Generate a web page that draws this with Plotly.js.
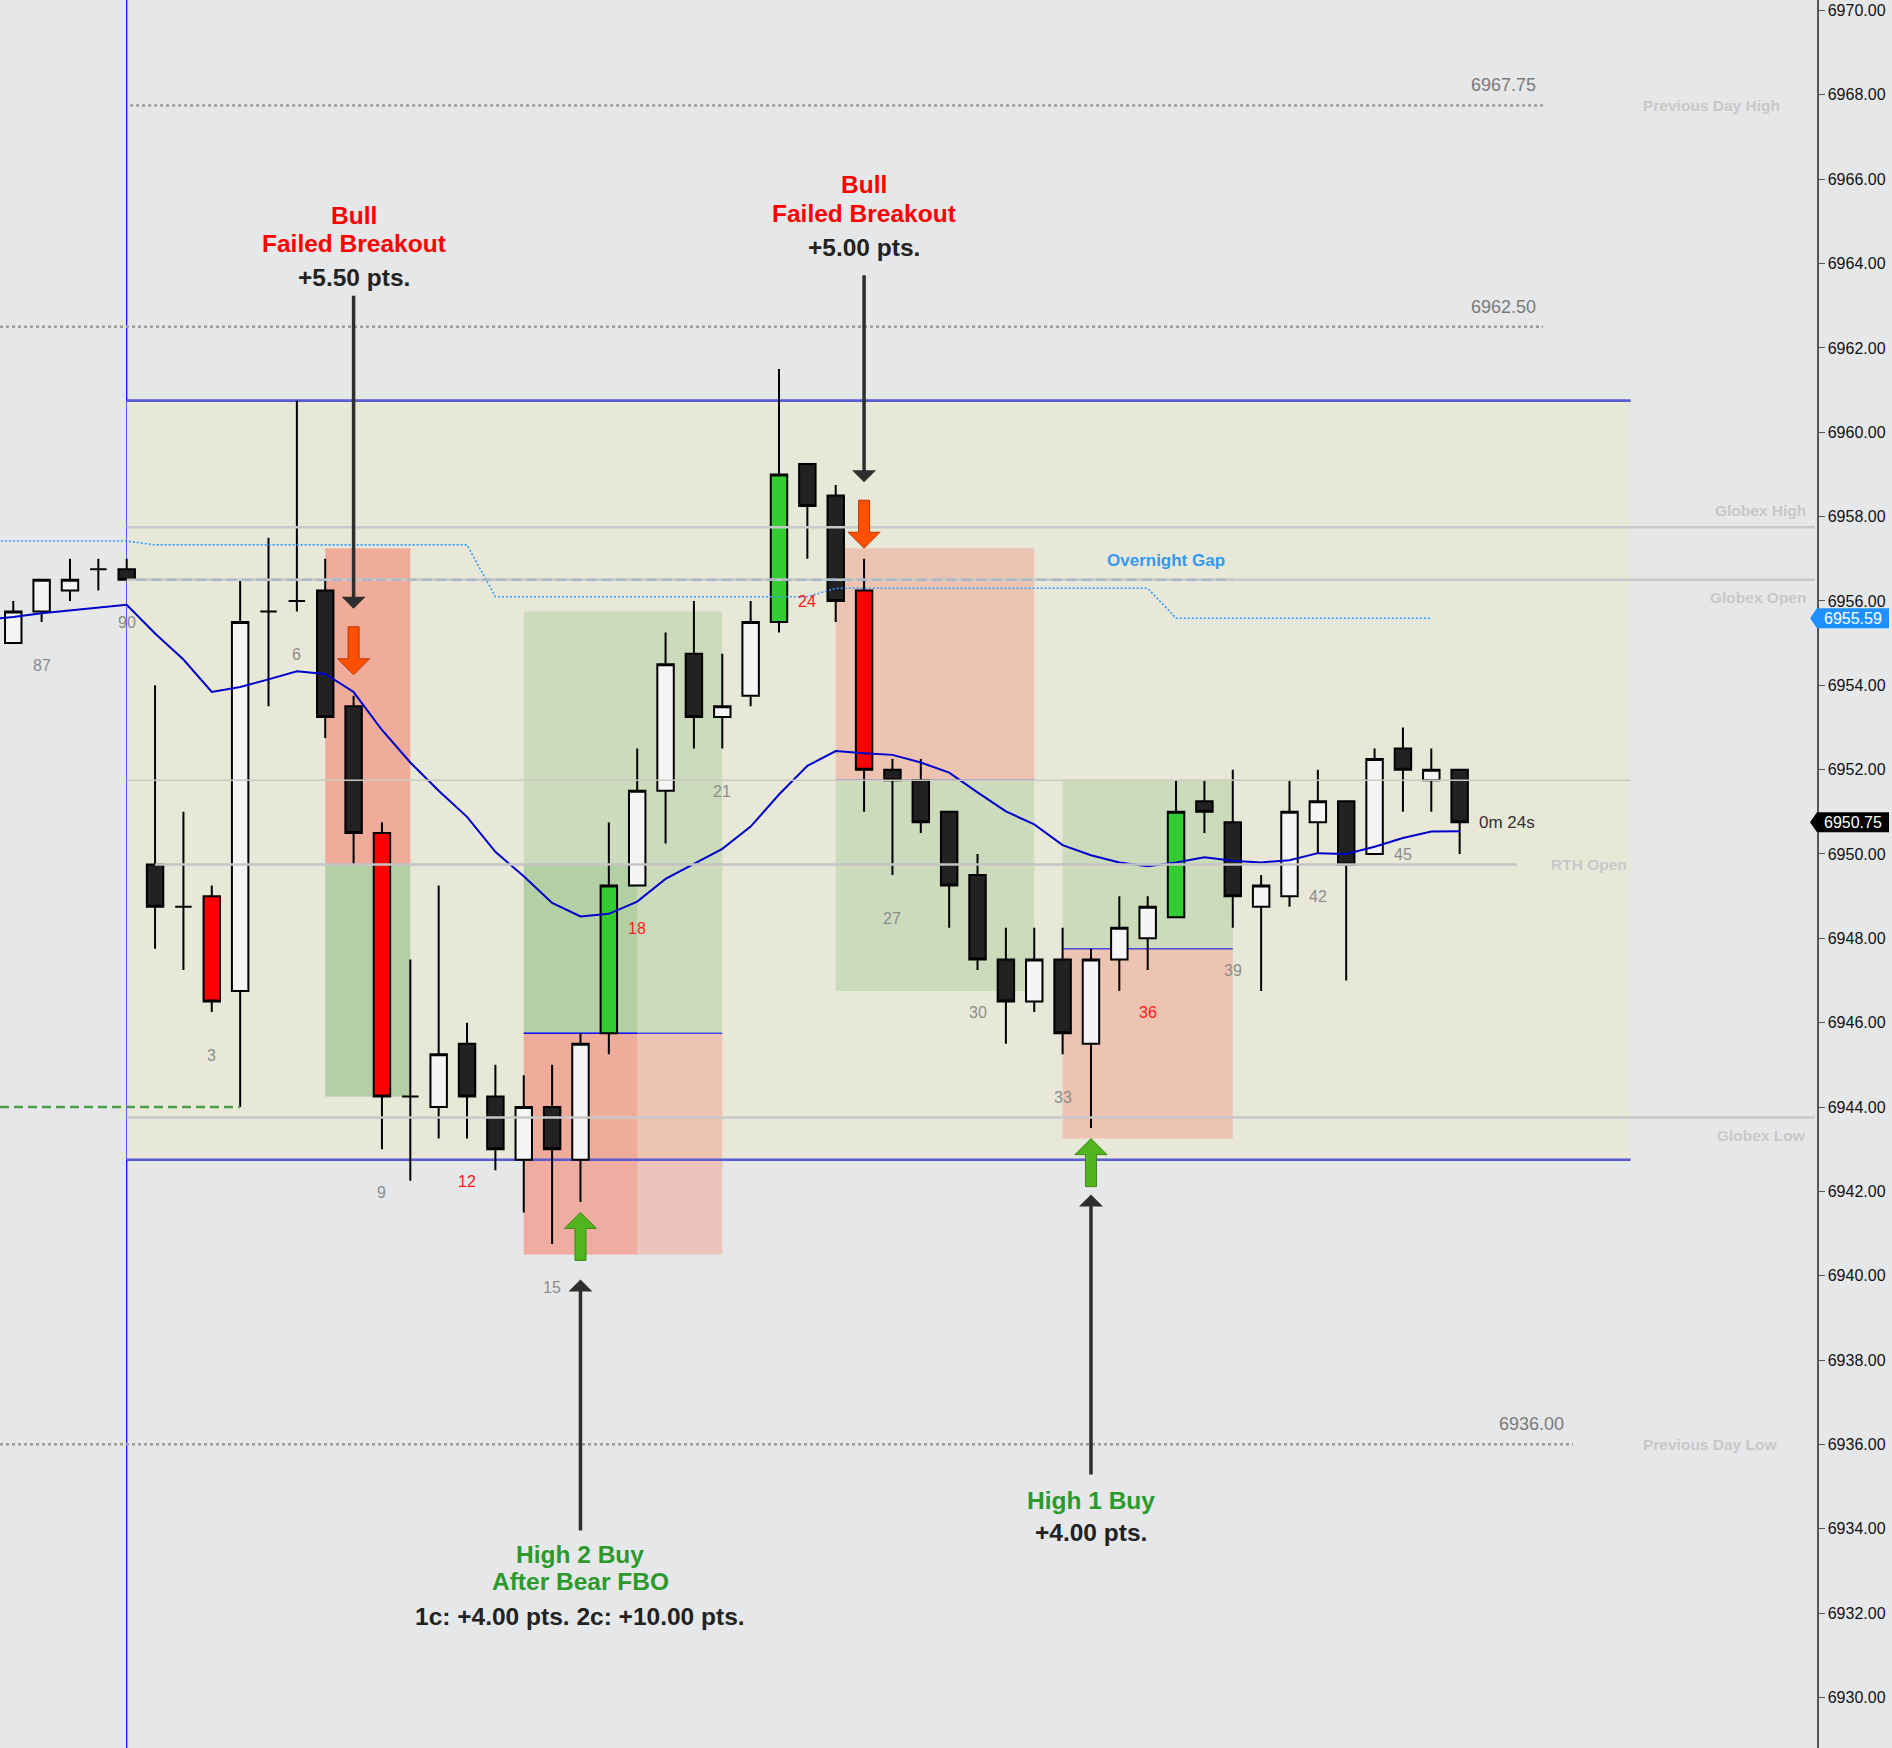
<!DOCTYPE html>
<html>
<head>
<meta charset="utf-8">
<script src="https://cdn.plot.ly/plotly-3.0.1.min.js"></script>
<style>
html,body{margin:0;padding:0;background:#e6e7e9;}
#chart{width:1892px;height:1748px;}
</style>
</head>
<body>
<div id="chart"></div>
<script>
// ---------------- DATA ----------------
const bars   = [86,87,88,89,90,1,2,3,4,5,6,7,8,9,10,11,12,13,14,15,16,17,18,19,20,21,22,23,24,25,26,27,28,29,30,31,32,33,34,35,36,37,38,39,40,41,42,43,44,45,46,47];
const opens  = [6955.00,6955.75,6956.25,6956.75,6956.75,6949.75,6948.75,6949.00,6946.75,6955.75,6956.00,6956.25,6953.50,6950.50,6944.25,6944.00,6945.50,6944.25,6942.75,6944.00,6942.75,6945.75,6949.25,6951.50,6954.75,6953.25,6953.75,6955.50,6959.25,6958.50,6956.25,6952.00,6951.75,6951.00,6949.50,6947.50,6946.50,6947.50,6945.50,6947.50,6948.00,6948.50,6951.25,6950.75,6948.75,6949.00,6950.75,6951.25,6950.00,6952.50,6951.75,6952.00];
const highs  = [6956.00,6956.50,6957.00,6957.00,6957.00,6954.00,6951.00,6949.25,6956.50,6957.50,6960.75,6957.00,6953.75,6950.75,6947.50,6949.25,6946.00,6945.00,6944.75,6945.00,6945.75,6950.75,6952.50,6955.25,6956.00,6954.75,6956.00,6961.50,6959.25,6958.75,6957.00,6952.25,6952.25,6951.00,6950.00,6948.25,6948.25,6948.25,6947.75,6949.00,6949.00,6951.75,6951.75,6952.00,6949.50,6951.75,6952.00,6951.25,6952.50,6953.00,6952.50,6952.00];
const lows   = [6955.00,6955.50,6956.00,6956.25,6956.50,6947.75,6947.25,6946.25,6944.00,6953.50,6955.75,6952.75,6949.75,6943.00,6942.25,6943.25,6943.25,6942.50,6941.50,6940.75,6941.75,6945.25,6949.25,6950.25,6952.50,6952.50,6953.50,6955.25,6957.00,6955.50,6951.00,6949.50,6950.50,6948.25,6947.25,6945.50,6946.25,6945.25,6943.50,6946.75,6947.25,6948.50,6950.50,6948.25,6946.75,6948.75,6950.00,6947.00,6950.00,6951.00,6951.00,6950.00];
const closes = [6955.75,6956.50,6956.50,6956.75,6956.50,6948.75,6948.75,6946.50,6955.50,6955.75,6956.00,6953.25,6950.50,6944.25,6944.25,6945.25,6944.25,6943.00,6944.00,6943.00,6945.50,6949.25,6951.50,6954.50,6953.25,6953.50,6955.50,6959.00,6958.25,6956.00,6952.00,6951.75,6950.75,6949.25,6947.50,6946.50,6947.50,6945.75,6947.50,6948.25,6948.75,6951.00,6951.00,6949.00,6949.25,6951.00,6951.25,6949.75,6952.25,6952.00,6952.00,6950.75];

const greenBars    = [17,23,37];
const redBars      = [3,9,26];
const redLabelBars = [12,18,24,36];

const emaBars   = [85,86,87,88,89,90,1,2,3,4,5,6,7,8,9,10,11,12,13,14,15,16,17,18,19,20,21,22,23,24,25,26,27,28,29,30,31,32,33,34,35,36,37,38,39,40,41,42,43,44,45,46,47];
const emaValues = [6955.55,6955.62,6955.71,6955.78,6955.85,6955.91,6955.23,6954.61,6953.84,6953.96,6954.14,6954.33,6954.27,6953.84,6952.94,6952.17,6951.50,6950.88,6950.05,6949.47,6948.84,6948.52,6948.58,6948.87,6949.41,6949.76,6950.12,6950.65,6951.41,6952.09,6952.44,6952.39,6952.35,6952.17,6951.93,6951.46,6951.01,6950.70,6950.21,6949.97,6949.80,6949.71,6949.80,6949.92,6949.84,6949.80,6949.85,6950.02,6950.00,6950.17,6950.38,6950.53,6950.54];

const gapBars   = [85,86,87,88,89,90,1,2,3,4,5,6,7,8,9,10,11,12,13,14,15,16,17,18,19,20,21,22,23,24,25,26,27,28,29,30,31,32,33,34,35,36,37,38,39,40,41,42,43,44,45,46];
const gapValues = [6957.42,6957.42,6957.42,6957.42,6957.42,6957.42,6957.33,6957.33,6957.33,6957.33,6957.33,6957.33,6957.33,6957.33,6957.33,6957.33,6957.33,6957.33,6956.10,6956.10,6956.10,6956.10,6956.10,6956.10,6956.10,6956.10,6956.10,6956.10,6956.10,6956.10,6956.30,6956.30,6956.30,6956.30,6956.30,6956.30,6956.30,6956.30,6956.30,6956.30,6956.30,6956.30,6955.59,6955.59,6955.59,6955.59,6955.59,6955.59,6955.59,6955.59,6955.59,6955.59];

const rangeHigh = 6960.75, rangeLow = 6942.75;
const globexHigh = 6957.75, globexOpen = 6956.50, globexLow = 6943.75, rthOpen = 6949.75;
const prevDayHigh = 6967.75, level6962 = 6962.50, prevDayLow = 6936.00;
const greenDashLevel = 6944.00;

// trades (one record per contract)
const trades = [
  {start:7,  end:10, entry:6949.75, target:6944.25, stop:6957.25},
  {start:7,  end:10, entry:6949.75, target:6944.25, stop:6957.25},
  {start:14, end:18, entry:6945.75, target:6949.75, stop:6940.50},
  {start:14, end:21, entry:6945.75, target:6955.75, stop:6940.50},
  {start:25, end:32, entry:6951.75, target:6946.75, stop:6957.25},
  {start:33, end:39, entry:6947.75, target:6951.75, stop:6943.25}
];
// signal arrows: bar, price of block-arrow tip, direction
const signals = [
  {bar:8,  tip:6954.25, dir:'down', blackTip:66, tail:379},
  {bar:26, tip:6957.25, dir:'down', blackTip:66, tail:273},
  {bar:16, tip:6941.50, dir:'up',   blackTip:67, tail:318},
  {bar:34, tip:6943.25, dir:'up',   blackTip:56, tail:336}
];

// ---------------- HELPERS ----------------
const xOf = b => (b >= 80 ? b - 90 : b);
const X0 = -4.4676, X1 = 59.60;
const Y0 = 6928.80, Y1 = 6970.25;
const RANGE_END = 53.03;
const FONT = '"Liberation Sans", Arial, sans-serif';
const RED = '#ff0000', GREEN = '#2b9a2b', DARK = '#222222';

// ---------------- TRACES ----------------
const groups = {
  white:{fill:'#f5f5f5', idx:[]},
  black:{fill:'#222222', idx:[]},
  green:{fill:'#33cc33', idx:[]},
  red:  {fill:'#ff0000', idx:[]}
};
bars.forEach((b,i) => {
  let g;
  if (greenBars.includes(b)) g = 'green';
  else if (redBars.includes(b)) g = 'red';
  else if (closes[i] > opens[i]) g = 'white';
  else g = 'black';
  groups[g].idx.push(i);
});

const traces = [];
traces.push({
  type:'scatter', mode:'lines', x:gapBars.map(xOf), y:gapValues,
  line:{color:'#3399ff', width:1.6, dash:'2px,2px'}, hoverinfo:'skip', showlegend:false
});
traces.push({
  type:'scatter', mode:'lines', x:emaBars.map(xOf), y:emaValues,
  line:{color:'#0000cc', width:2}, hoverinfo:'skip', showlegend:false
});
Object.keys(groups).forEach(k => {
  const g = groups[k];
  traces.push({
    type:'candlestick',
    x: g.idx.map(i => xOf(bars[i])),
    open: g.idx.map(i => opens[i]),
    high: g.idx.map(i => highs[i]),
    low: g.idx.map(i => lows[i]),
    close: g.idx.map(i => closes[i]),
    increasing:{line:{color:'#000000', width:2}, fillcolor:g.fill},
    decreasing:{line:{color:'#000000', width:2}, fillcolor:g.fill},
    whiskerwidth:0, hoverinfo:'skip', showlegend:false
  });
});

// ---------------- SHAPES ----------------
const shapes = [];
// range box
shapes.push({type:'rect', layer:'below', xref:'x', yref:'y', x0:0, x1:RANGE_END, y0:rangeLow, y1:rangeHigh,
  fillcolor:'#e8e8d8', line:{width:0}});
// trades
trades.forEach(t => {
  shapes.push({type:'rect', layer:'below', xref:'x', yref:'y', x0:t.start, x1:t.end, y0:t.entry, y1:t.target,
    fillcolor:'rgba(70,160,60,0.18)', line:{width:0}});
  shapes.push({type:'rect', layer:'below', xref:'x', yref:'y', x0:t.start, x1:t.end, y0:t.entry, y1:t.stop,
    fillcolor:'rgba(245,130,110,0.35)', line:{width:0}});
});
trades.forEach(t => {
  shapes.push({type:'line', layer:'below', xref:'x', yref:'y', x0:t.start, x1:t.end, y0:t.entry, y1:t.entry,
    line:{color:'#0000ff', width:1}});
});
// vertical session line
shapes.push({type:'line', layer:'below', xref:'x', yref:'paper', x0:0, x1:0, y0:0, y1:1,
  line:{color:'#0000ff', width:1.2}});
// range high / low lines
[rangeHigh, rangeLow].forEach(v => shapes.push({type:'line', layer:'below', xref:'x', yref:'y',
  x0:0, x1:RANGE_END, y0:v, y1:v, line:{color:'#5b5bd2', width:2.6}}));

// above: reference lines
const mid = (rangeHigh + rangeLow) / 2;
shapes.push({type:'line', xref:'x', yref:'y', x0:0, x1:RANGE_END, y0:mid, y1:mid, line:{color:'#c9c9bd', width:1.5}});
[globexHigh, globexOpen, globexLow].forEach(v => shapes.push({type:'line', xref:'x', yref:'y',
  x0:0, x1:59.53, y0:v, y1:v, line:{color:'#c8c8c8', width:2.5}}));
shapes.push({type:'line', xref:'x', yref:'y', x0:0.35, x1:39, y0:globexOpen, y1:globexOpen,
  line:{color:'#a9b8c8', width:2.5, dash:'10px,5px'}});
shapes.push({type:'line', xref:'x', yref:'y', x0:1, x1:49.02, y0:rthOpen, y1:rthOpen,
  line:{color:'#c4c4c4', width:2.5}});
shapes.push({type:'line', xref:'x', yref:'y', x0:0.12, x1:49.94, y0:prevDayHigh, y1:prevDayHigh,
  line:{color:'#9c9c9c', width:2.5, dash:'3px,3px'}});
shapes.push({type:'line', xref:'x', yref:'y', x0:X0, x1:49.94, y0:level6962, y1:level6962,
  line:{color:'#9c9c9c', width:2.5, dash:'3px,3px'}});
shapes.push({type:'line', xref:'x', yref:'y', x0:X0, x1:51.0, y0:prevDayLow, y1:prevDayLow,
  line:{color:'#9c9c9c', width:2.5, dash:'3px,3px'}});
shapes.push({type:'line', xref:'x', yref:'y', x0:X0, x1:4, y0:greenDashLevel, y1:greenDashLevel,
  line:{color:'#4a9e4a', width:2.5, dash:'9px,5px'}});

// signal arrows
signals.forEach(s => {
  const sg = s.dir === 'down' ? 1 : -1;
  const p = (x, y) => `${x},${sg*y}`;
  const bx = xOf(s.bar);
  const fill = s.dir === 'down' ? '#ff4f00' : '#52b51f';
  const edge = s.dir === 'down' ? '#b83a00' : '#3a8a16';
  shapes.push({type:'path', xref:'x', yref:'y', xsizemode:'pixel', ysizemode:'pixel', xanchor:bx, yanchor:s.tip,
    path:`M${p(0,0)} L${p(-16,16)} L${p(-5.5,16)} L${p(-5.5,48)} L${p(5.5,48)} L${p(5.5,16)} L${p(16,16)} Z`,
    fillcolor:fill, line:{color:edge, width:1}});
  const t = s.blackTip;
  shapes.push({type:'line', xref:'x', yref:'y', ysizemode:'pixel', yanchor:s.tip, x0:bx, x1:bx,
    y0:sg*(t+8), y1:sg*s.tail, line:{color:'#2e2e2e', width:3.5}});
  shapes.push({type:'path', xref:'x', yref:'y', xsizemode:'pixel', ysizemode:'pixel', xanchor:bx, yanchor:s.tip,
    path:`M${p(0,t)} L${p(-12,t+12)} L${p(12,t+12)} Z`, fillcolor:'#2e2e2e', line:{width:0}});
});

// price tags on the axis
const lastGap = gapValues[gapValues.length-1];
const lastClose = closes[closes.length-1];
[[lastGap,'#1e90ff'],[lastClose,'#000000']].forEach(([v,c]) => {
  shapes.push({type:'path', xref:'paper', yref:'y', xsizemode:'pixel', ysizemode:'pixel', xanchor:1, yanchor:v,
    path:'M-7,0 L0,10 L72,10 L72,-10 L0,-10 Z', fillcolor:c, line:{width:0}});
});

// ---------------- ANNOTATIONS ----------------
const ann = [];
bars.forEach((b,i) => {
  if (b % 3 === 0) {
    ann.push({x:xOf(b), y:lows[i], yshift:-43, xref:'x', yref:'y', text:String(b), showarrow:false,
      xanchor:'center', yanchor:'middle',
      font:{family:FONT, size:16, color: redLabelBars.includes(b) ? '#ff1a1a' : '#8c8c8c'}});
  }
});
const tradeText = [
  {bar:8,  y:6965.15, text:'Bull', color:RED},
  {bar:8,  y:6964.48, text:'Failed Breakout', color:RED},
  {bar:8,  y:6963.67, text:'+5.50 pts.', color:DARK},
  {bar:26, y:6965.87, text:'Bull', color:RED},
  {bar:26, y:6965.19, text:'Failed Breakout', color:RED},
  {bar:26, y:6964.38, text:'+5.00 pts.', color:DARK},
  {bar:16, y:6933.40, text:'High 2 Buy', color:GREEN},
  {bar:16, y:6932.74, text:'After Bear FBO', color:GREEN},
  {bar:16, y:6931.93, text:'1c: +4.00 pts. 2c: +10.00 pts.', color:DARK},
  {bar:34, y:6934.66, text:'High 1 Buy', color:GREEN},
  {bar:34, y:6933.91, text:'+4.00 pts.', color:DARK}
];
tradeText.forEach(t => ann.push({x:xOf(t.bar), y:t.y, xref:'x', yref:'y', text:'<b>'+t.text+'</b>', showarrow:false,
  xanchor:'center', yanchor:'middle', font:{family:FONT, size:24.5, color:t.color}}));

ann.push({x:36.63, y:6956.95, xref:'x', yref:'y', text:'<b>Overnight Gap</b>', showarrow:false,
  xanchor:'center', yanchor:'middle', font:{family:FONT, size:17, color:'#3399ee'}});

const lightLbl = {family:FONT, size:15.5, color:'#c8c8c8'};
ann.push({x:0.9422, xref:'paper', y:prevDayHigh, yref:'y', text:'<b>Previous Day High</b>', showarrow:false, xanchor:'center', yanchor:'middle', font:lightLbl});
ann.push({x:0.9411, xref:'paper', y:prevDayLow, yref:'y', text:'<b>Previous Day Low</b>', showarrow:false, xanchor:'center', yanchor:'middle', font:lightLbl});
ann.push({x:1, xref:'paper', xshift:-9.5, y:globexHigh, yref:'y', yshift:17, text:'<b>Globex High</b>', showarrow:false, xanchor:'right', yanchor:'middle', font:lightLbl});
ann.push({x:1, xref:'paper', xshift:-9.5, y:globexOpen, yref:'y', yshift:-17.5, text:'<b>Globex Open</b>', showarrow:false, xanchor:'right', yanchor:'middle', font:lightLbl});
ann.push({x:1, xref:'paper', xshift:-9.5, y:globexLow, yref:'y', yshift:-17.5, text:'<b>Globex Low</b>', showarrow:false, xanchor:'right', yanchor:'middle', font:lightLbl});
ann.push({x:50.15, xref:'x', y:rthOpen, yref:'y', text:'<b>RTH Open</b>', showarrow:false, xanchor:'left', yanchor:'middle', font:lightLbl});

const lvlFont = {family:FONT, size:18, color:'#7a7a7a'};
ann.push({x:49.75, xref:'x', y:prevDayHigh, yref:'y', yshift:20, text:prevDayHigh.toFixed(2), showarrow:false, xanchor:'right', yanchor:'middle', font:lvlFont});
ann.push({x:49.75, xref:'x', y:level6962, yref:'y', yshift:20, text:level6962.toFixed(2), showarrow:false, xanchor:'right', yanchor:'middle', font:lvlFont});
ann.push({x:50.74, xref:'x', y:prevDayLow, yref:'y', yshift:20, text:prevDayLow.toFixed(2), showarrow:false, xanchor:'right', yanchor:'middle', font:lvlFont});

ann.push({x:xOf(bars[bars.length-1]) + 0.6, xref:'x', y:lastClose, yref:'y', text:'0m 24s', showarrow:false,
  xanchor:'left', yanchor:'middle', font:{family:FONT, size:17, color:'#333333'}});

[lastGap, lastClose].forEach(v => ann.push({x:1, xref:'paper', xshift:36, y:v, yref:'y', text:v.toFixed(2), showarrow:false,
  xanchor:'center', yanchor:'middle', font:{family:FONT, size:16, color:'#ffffff'}}));

// ---------------- LAYOUT ----------------
const layout = {
  width:1892, height:1748,
  margin:{l:0, r:75, t:0, b:0, pad:0},
  paper_bgcolor:'#e6e7e9', plot_bgcolor:'#e6e7e9',
  font:{family:FONT, color:'#222'},
  showlegend:false,
  boxmode:'overlay', boxgap:0.42, boxgroupgap:0,
  xaxis:{range:[X0, X1], visible:false, showgrid:false, zeroline:false, rangeslider:{visible:false}, fixedrange:true},
  yaxis:{range:[Y0, Y1], side:'right', showgrid:false, zeroline:false, showline:true, linecolor:'#555555', linewidth:1.5,
    ticks:'outside', ticklen:6, tickwidth:1, tickcolor:'#555555', tick0:6930, dtick:2, tickformat:'.2f',
    tickfont:{family:FONT, size:16, color:'#111111'}, automargin:false, fixedrange:true},
  shapes:shapes,
  annotations:ann
};

Plotly.newPlot('chart', traces, layout, {displayModeBar:false, staticPlot:true});
</script>
</body>
</html>
